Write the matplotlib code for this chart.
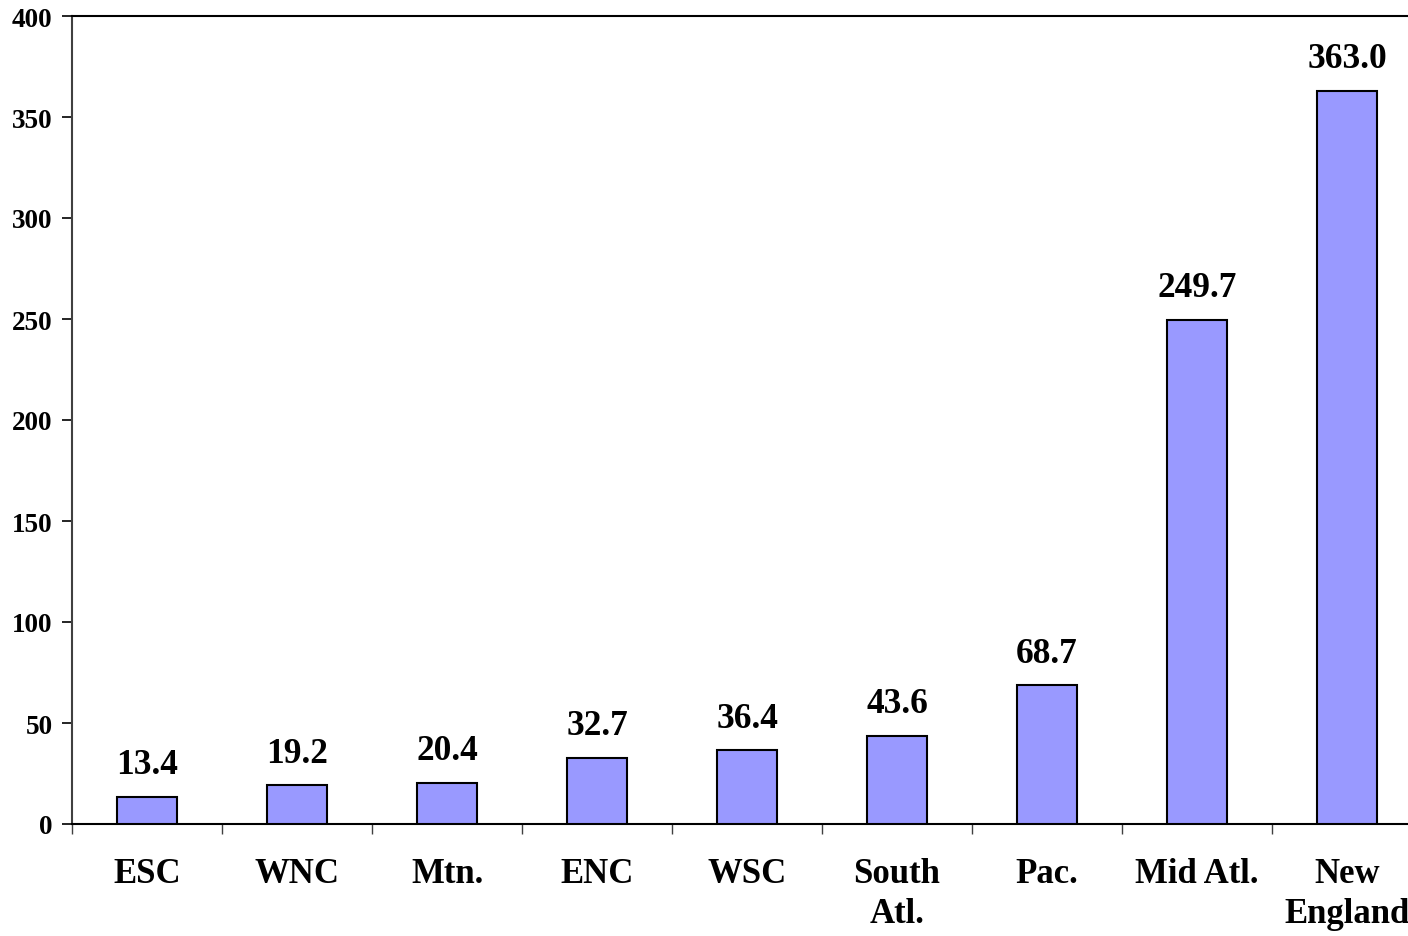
import matplotlib
matplotlib.use("Agg")
import matplotlib.pyplot as plt
from matplotlib.ticker import FixedLocator

categories = ["ESC", "WNC", "Mtn.", "ENC", "WSC", "South\nAtl.", "Pac.", "Mid Atl.", "New\nEngland"]
values = [13.4, 19.2, 20.4, 32.7, 36.4, 43.6, 68.7, 249.7, 363.0]
yticks = [0, 50, 100, 150, 200, 250, 300, 350, 400]

plt.rcParams['font.family'] = ['Liberation Serif', 'DejaVu Serif']
plt.rcParams['font.weight'] = 'bold'

fig = plt.figure(figsize=(14.08, 9.37), dpi=100)
ax = fig.add_axes([72/1408, 112/937, 1350/1408, 808/937])

x = list(range(len(categories)))
bars = ax.bar(x, values, width=0.4, color='#9999FF', edgecolor='black', linewidth=1.5, zorder=3)

for xi, v in zip(x, values):
    ax.annotate(f"{v:.1f}", xy=(xi, v), xytext=(0, 17), textcoords='offset points',
                ha='center', va='baseline', fontsize=25.5, fontweight='bold', color='black')

ax.set_xlim(-0.5, len(categories) - 0.5)
ax.set_ylim(0, 400)
ax.set_yticks(yticks)
ax.set_yticklabels([str(t) for t in yticks], fontsize=19.5, fontweight='bold')
ax.set_xticks(x)
ax.set_xticklabels(categories, fontsize=25, fontweight='bold', linespacing=1.25)
ax.xaxis.set_minor_locator(FixedLocator([i - 0.5 for i in range(len(categories) + 1)]))
ax.tick_params(axis='x', which='major', length=0, pad=24)
ax.tick_params(axis='x', which='minor', length=7, width=1, direction='out', color='#404040')
ax.tick_params(axis='y', length=7, width=1.2, direction='out', pad=7)

for s in ['left', 'bottom', 'top']:
    ax.spines[s].set_linewidth(1.5)
    ax.spines[s].set_color('black')
ax.spines['left'].set_color('#404040')
ax.spines['right'].set_visible(False)

fig.savefig("out.png", dpi=100)
